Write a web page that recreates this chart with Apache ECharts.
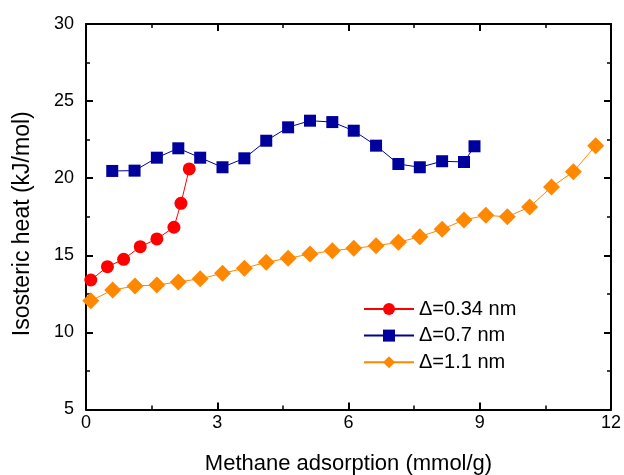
<!DOCTYPE html>
<html>
<head>
<meta charset="utf-8">
<script src="https://cdn.jsdelivr.net/npm/echarts@6/dist/echarts.min.js"></script>
<style>
  html, body { margin: 0; padding: 0; background: #fff; }
  #chart { width: 624px; height: 475px; }
</style>
</head>
<body>
<div id="chart"></div>
<script>
// Δ=0.34 nm
const x034 = [0.11, 0.49, 0.86, 1.24, 1.62, 2.01, 2.17, 2.36];
const y034 = [13.4, 14.26, 14.74, 15.56, 16.06, 16.82, 18.37, 20.6];
// Δ=0.7 nm
const x07 = [0.60, 1.11, 1.62, 2.11, 2.61, 3.12, 3.62, 4.12, 4.62, 5.12, 5.63, 6.12, 6.63, 7.14, 7.63, 8.14, 8.64, 8.88];
const y07 = [20.47, 20.49, 21.33, 21.94, 21.33, 20.71, 21.29, 22.43, 23.30, 23.73, 23.64, 23.08, 22.11, 20.92, 20.71, 21.10, 21.05, 22.07];
// Δ=1.1 nm
const x11 = [0.11, 0.61, 1.12, 1.62, 2.11, 2.61, 3.12, 3.62, 4.12, 4.62, 5.12, 5.63, 6.12, 6.63, 7.14, 7.63, 8.14, 8.64, 9.14, 9.63, 10.14, 10.64, 11.14, 11.65];
const y11 = [12.06, 12.75, 13.01, 13.07, 13.27, 13.48, 13.83, 14.16, 14.55, 14.81, 15.08, 15.30, 15.45, 15.62, 15.84, 16.21, 16.69, 17.29, 17.59, 17.50, 18.13, 19.43, 20.42, 22.11];

const seriesNames = ['\u0394=0.34 nm', '\u0394=0.7 nm', '\u0394=1.1 nm'];
const xTicks = { min: 0, max: 12, interval: 3 };
const yTicks = { min: 5, max: 30, interval: 5 };

const pairs = (xs, ys) => xs.map((x, i) => [x, ys[i]]);

const font = '"Liberation Sans", Arial, sans-serif';
const axisLine = { show: true, onZero: false, lineStyle: { color: '#000', width: 2 } };
const tick = { show: true, inside: true, length: 7, lineStyle: { color: '#000', width: 2 } };
const minor = { show: true, splitNumber: 2, length: 4, lineStyle: { color: '#000', width: 1.5 } };

const chart = echarts.init(document.getElementById('chart'));
chart.setOption({
  animation: false,
  grid: { left: 86, right: 13, top: 24, bottom: 65.5, outerBoundsMode: 'none' },
  legend: {
    orient: 'vertical',
    left: 363,
    top: 299,
    padding: 0,
    itemWidth: 50,
    itemHeight: 15,
    itemGap: 6.6,
    textStyle: { fontFamily: font, fontSize: 20, color: '#000', lineHeight: 20 },
    data: seriesNames
  },
  xAxis: [
    {
      type: 'value', min: xTicks.min, max: xTicks.max, interval: xTicks.interval,
      name: 'Methane adsorption (mmol/g)', nameLocation: 'middle', nameGap: 43,
      nameTextStyle: { fontFamily: font, fontSize: 22, color: '#000' },
      axisLine: axisLine, axisTick: tick, minorTick: minor,
      axisLabel: { fontFamily: font, fontSize: 18, color: '#000', margin: 5 },
      splitLine: { show: false }
    },
    {
      type: 'value', position: 'top', min: xTicks.min, max: xTicks.max, interval: xTicks.interval,
      axisLine: axisLine, axisTick: tick, minorTick: minor,
      axisLabel: { show: false }, splitLine: { show: false }
    }
  ],
  yAxis: [
    {
      type: 'value', min: yTicks.min, max: yTicks.max, interval: yTicks.interval,
      name: 'Isosteric heat (kJ/mol)', nameLocation: 'middle', nameGap: 52,
      nameTextStyle: { fontFamily: font, fontSize: 23, color: '#000', padding: [0, 14, 0, 0] },
      axisLine: axisLine, axisTick: tick, minorTick: minor,
      axisLabel: { fontFamily: font, fontSize: 18, color: '#000', margin: 12 },
      splitLine: { show: false }
    },
    {
      type: 'value', position: 'right', min: yTicks.min, max: yTicks.max, interval: yTicks.interval,
      axisLine: axisLine, axisTick: tick, minorTick: minor,
      axisLabel: { show: false }, splitLine: { show: false }
    }
  ],
  series: [
    {
      name: seriesNames[0], type: 'line', data: pairs(x034, y034),
      symbol: 'circle', symbolSize: 13,
      itemStyle: { color: '#ff0000' }, lineStyle: { color: '#ff0000', width: 1 }
    },
    {
      name: seriesNames[1], type: 'line', data: pairs(x07, y07),
      symbol: 'rect', symbolSize: 12,
      itemStyle: { color: '#00009c' }, lineStyle: { color: '#00009c', width: 1 }
    },
    {
      name: seriesNames[2], type: 'line', data: pairs(x11, y11),
      symbol: 'diamond', symbolSize: 17,
      itemStyle: { color: '#ff8800' }, lineStyle: { color: '#ff8800', width: 1 }
    }
  ]
});
</script>
</body>
</html>
